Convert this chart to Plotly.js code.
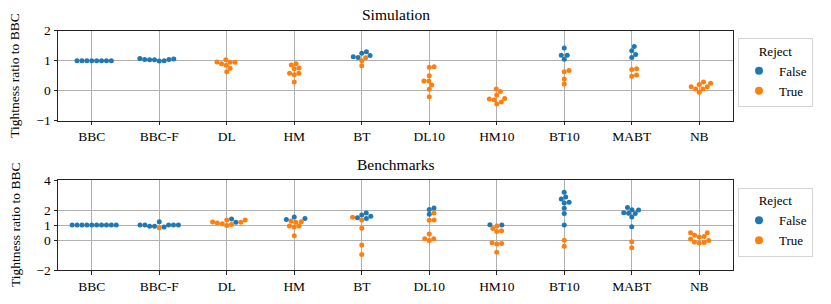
<!DOCTYPE html>
<html>
<head>
<meta charset="utf-8">
<script src="https://cdn.plot.ly/plotly-3.0.1.min.js"></script>
<style>html,body{margin:0;padding:0;background:#fff;}#chart{width:831px;height:304px;}</style>
</head>
<body>
<div id="chart"></div>
<script>
const categories = ['BBC','BBC-F','DL','HM','BT','DL10','HM10','BT10','MABT','NB'];

// Simulation panel: Reject = False / True
const simFalse = [
  [1,1,1,1,1,1,1,1],
  [1.06,1.04,1.0,0.99,1.03,1.03,1.04,1.07],
  [],
  [],
  [1.17,1.25,1.3,1.11,1.13],
  [],
  [],
  [1.42,1.18,1.18,1.05],
  [1.47,1.33,1.21,1.11],
  []
];
const simTrue = [
  [],
  [],
  [1.03,0.96,0.95,0.95,0.9,0.85,0.75,0.63],
  [0.9,0.86,0.76,0.73,0.58,0.58,0.53,0.29],
  [1.1,1.0,0.83],
  [0.8,0.78,0.5,0.32,0.32,0.19,0.05,-0.2],
  [0.06,-0.03,-0.14,-0.26,-0.28,-0.3,-0.38,-0.44],
  [0.67,0.63,0.39,0.22],
  [0.73,0.71,0.52,0.48],
  [0.29,0.25,0.21,0.13,0.13,0.06,0.06,-0.05]
];

// Benchmarks panel
const benchFalse = [
  [1,1,1,1,1,1,1,1,1,1],
  [1.0,1.0,1.0,0.87,1.22,0.91,0.91,1.0,1.0],
  [1.18,1.4],
  [1.44,1.36,1.53],
  [1.58,1.44,1.67,1.8,1.49],
  [2.13,2.04,1.71],
  [1.0,1.02],
  [3.18,2.87,2.73,2.51,2.47,2.11,1.76,1.0],
  [2.0,2.16,1.76,1.78,1.82,2.02,1.53,0.89],
  []
];
const benchTrue = [
  [],
  [0.82],
  [1.18,1.33,1.33,1.04,0.96,1.09,1.13,1.2],
  [1.18,1.22,1.27,0.93,0.87,0.93,0.29],
  [1.33,1.51,0.78,-0.33,-0.96],
  [1.8,1.33,1.31,0.09,0.4,-0.04,0.09],
  [0.93,0.62,0.56,0.76,-0.24,-0.27,-0.18,-0.82],
  [-0.02,-0.42],
  [-0.11,-0.51],
  [-0.04,0.31,-0.16,0.24,-0.2,0.49,-0.13,0.49,0.07,0.2]
];

const simTicks = [-1,0,1,2];
const benchTicks = [-2,0,1,2,4];
const simRange = [-1,2];
const benchRange = [-2,4];

const W = 831, H = 304;
const plotL = 58, plotR = 733;
const simTop = 30.7, simBot = 120.7;
const benTop = 180, benBot = 270;
const blue = '#1f77b4', orange = '#ff7f0e';
const FONT = 'Liberation Serif, Times New Roman, serif';
const DOT = 5, GAP = 4.9;

function swarmOffsets(values, pyScale, d) {
  const idx = values.map((v,i)=>i).sort((a,b)=>values[a]-values[b]);
  const placed = []; const off = new Array(values.length);
  for (const i of idx) {
    const y = values[i]*pyScale;
    const cands = [0];
    for (const p of placed) {
      const dy = Math.abs(p.y-y);
      if (dy < d) { const dx = Math.sqrt(d*d-dy*dy); cands.push(p.x+dx, p.x-dx); }
    }
    cands.sort((a,b)=>Math.abs(a)-Math.abs(b));
    let chosen = 0;
    for (const c of cands) {
      if (placed.every(p => (p.x-c)*(p.x-c)+(p.y-y)*(p.y-y) >= d*d-1e-6)) { chosen = c; break; }
    }
    placed.push({x:chosen, y}); off[i] = chosen;
  }
  return off;
}

function buildPanel(fArr, tArr, yRange, pxTop, pxBot, xa, ya) {
  const pxPerX = (plotR-plotL)/categories.length;
  const pxPerY = (pxBot-pxTop)/(yRange[1]-yRange[0]);
  const fx=[], fy=[], tx=[], ty=[];
  categories.forEach((c,k)=>{
    const all = fArr[k].concat(tArr[k]);
    const off = swarmOffsets(all, pxPerY, GAP);
    all.forEach((v,i)=>{
      const xv = k + off[i]/pxPerX;
      if (i < fArr[k].length) { fx.push(xv); fy.push(v); } else { tx.push(xv); ty.push(v); }
    });
  });
  return [
    {type:'scatter', mode:'markers', x:fx, y:fy, xaxis:xa, yaxis:ya, showlegend:false, hoverinfo:'y',
     marker:{color:blue, size:DOT}},
    {type:'scatter', mode:'markers', x:tx, y:ty, xaxis:xa, yaxis:ya, showlegend:false, hoverinfo:'y',
     marker:{color:orange, size:DOT}}
  ];
}

const traces = [
  ...buildPanel(simFalse, simTrue, simRange, simTop, simBot, 'x', 'y'),
  ...buildPanel(benchFalse, benchTrue, benchRange, benTop, benBot, 'x2', 'y2'),
  {type:'scatter', mode:'markers', x:[null], y:[null], xaxis:'x', yaxis:'y', name:'False', legend:'legend', marker:{color:blue, size:8}},
  {type:'scatter', mode:'markers', x:[null], y:[null], xaxis:'x', yaxis:'y', name:'True', legend:'legend', marker:{color:orange, size:8}},
  {type:'scatter', mode:'markers', x:[null], y:[null], xaxis:'x2', yaxis:'y2', name:'False', legend:'legend2', marker:{color:blue, size:8}},
  {type:'scatter', mode:'markers', x:[null], y:[null], xaxis:'x2', yaxis:'y2', name:'True', legend:'legend2', marker:{color:orange, size:8}}
];

const catIdx = categories.map((c,i)=>i);
function xAxis(anchor) {
  return {domain:[plotL/W, plotR/W], anchor, range:[-0.5, categories.length-0.5],
    tickmode:'array', tickvals:catIdx, ticktext:categories,
    showgrid:true, gridcolor:'#b0b0b0', gridwidth:1, zeroline:false,
    showline:true, linecolor:'#222', linewidth:1, mirror:true,
    ticks:'outside', ticklen:3.5, tickwidth:1, tickcolor:'#222',
    tickfont:{family:FONT, size:13.5, color:'#000'}, fixedrange:true};
}
function yAxis(anchor, top, bot, range, ticks) {
  return {domain:[1-bot/H, 1-top/H], anchor, range,
    tickmode:'array', tickvals:ticks,
    showgrid:true, gridcolor:'#b0b0b0', gridwidth:1, zeroline:false,
    showline:true, linecolor:'#222', linewidth:1, mirror:true,
    ticks:'outside', ticklen:3.5, tickwidth:1, tickcolor:'#222',
    tickfont:{family:FONT, size:13.5, color:'#000'}, fixedrange:true};
}
function legendCfg(topPx) {
  return {x:738/W, y:1-topPx/H, xanchor:'left', yanchor:'top',
    bgcolor:'#fff', bordercolor:'#d5d5d5', borderwidth:1,
    font:{family:FONT, size:13, color:'#000'},
    title:{text:'Reject', side:'top center', font:{family:FONT, size:13, color:'#000'}},
    itemwidth:30, tracegroupgap:0};
}

const layout = {
  width:W, height:H, margin:{l:0,r:0,t:0,b:0},
  paper_bgcolor:'#fff', plot_bgcolor:'#fff',
  font:{family:FONT, color:'#000'},
  xaxis:xAxis('y'), yaxis:yAxis('x', simTop, simBot, simRange, simTicks),
  xaxis2:xAxis('y2'), yaxis2:yAxis('x2', benTop, benBot, benchRange, benchTicks),
  legend:legendCfg(38), legend2:legendCfg(187.5),
  annotations:[
    {text:'Simulation', xref:'paper', yref:'paper', x:(plotL+plotR)/2/W, y:1-15/H, xanchor:'center', yanchor:'middle', showarrow:false, font:{family:FONT, size:15.5, color:'#000'}},
    {text:'Benchmarks', xref:'paper', yref:'paper', x:(plotL+plotR)/2/W, y:1-164.5/H, xanchor:'center', yanchor:'middle', showarrow:false, font:{family:FONT, size:15.5, color:'#000'}},
    {text:'Tightness ratio to BBC', xref:'paper', yref:'paper', x:15/W, y:1-(simTop+simBot)/2/H, xanchor:'center', yanchor:'middle', textangle:-90, showarrow:false, font:{family:FONT, size:13.5, color:'#000'}},
    {text:'Tightness ratio to BBC', xref:'paper', yref:'paper', x:15/W, y:1-(benTop+benBot)/2/H, xanchor:'center', yanchor:'middle', textangle:-90, showarrow:false, font:{family:FONT, size:13.5, color:'#000'}}
  ]
};

Plotly.newPlot('chart', traces, layout, {displayModeBar:false, staticPlot:true});
</script>
</body>
</html>
